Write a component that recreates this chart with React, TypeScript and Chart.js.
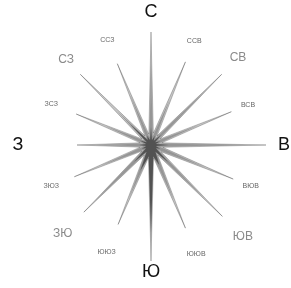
import React, { useEffect, useRef } from "react";
import { Chart, registerables } from "chart.js";

Chart.register(...registerables);

// 16 wind directions, clockwise from north
const DIRECTIONS = ["С", "ССВ", "СВ", "ВСВ", "В", "ВЮВ", "ЮВ", "ЮЮВ", "Ю", "ЮЮЗ", "ЗЮ", "ЗЮЗ", "З", "ЗСЗ", "СЗ", "ССЗ"];

// spike tip values (outer faint layer)
const OUTER_TIPS = [113, 90, 100, 87, 115, 89, 101, 90, 116, 86, 95, 83, 74, 81, 100, 88];
// values between directions (outer layer)
const OUTER_GAPS = [12, 11, 11, 11, 12, 12, 12, 13, 13, 12, 11, 11, 11, 11, 11, 11];

// darker middle layer
const INNER_TIPS = [82, 50, 80, 52, 95, 60, 76, 60, 98, 58, 80, 55, 55, 50, 48, 55];
const INNER_GAPS = [9, 8, 8, 8, 9, 9, 10, 11, 11, 10, 9, 8, 8, 8, 8, 8];

// darkest core
const CORE_TIPS = [18, 10, 14, 10, 18, 10, 24, 22, 88, 28, 24, 10, 12, 12, 30, 10];
const CORE_GAPS = [5, 5, 5, 5, 5, 6, 8, 12, 12, 8, 6, 5, 5, 5, 6, 5];

const SCALE_MAX = 140;

// label styling
const LABEL_DIST = [133, 113, 123, 105, 133, 108, 130, 118, 127, 116, 125, 108, 133, 108, 120, 114];
const LABEL_LEVEL = [0, 2, 1, 2, 0, 2, 1, 2, 0, 2, 1, 2, 0, 2, 1, 2];

function interleave(tips: number[], gaps: number[]): number[] {
  const out: number[] = [];
  for (let i = 0; i < tips.length; i++) {
    out.push(tips[i]);
    out.push(gaps[i]);
  }
  return out;
}

const labelPlugin = {
  id: "windLabels",
  afterDatasetsDraw(chart: any) {
    const scale = chart.scales.r;
    const ctx = chart.ctx;
    ctx.save();
    ctx.textAlign = "center";
    ctx.textBaseline = "middle";
    DIRECTIONS.forEach((name, i) => {
      const dist = scale.getDistanceFromCenterForValue(LABEL_DIST[i]);
      const p = scale.getPointPosition(i * 2, dist);
      const lvl = LABEL_LEVEL[i];
      if (lvl === 0) {
        ctx.font = "18px 'Liberation Sans', Arial, sans-serif";
        ctx.fillStyle = "#111";
      } else if (lvl === 1) {
        ctx.font = "12px 'Liberation Sans', Arial, sans-serif";
        ctx.fillStyle = "#8a8a8a";
      } else {
        ctx.font = "7px 'Liberation Sans', Arial, sans-serif";
        ctx.fillStyle = "#666";
      }
      ctx.fillText(name, p.x, p.y);
    });
    ctx.restore();
  },
};

export default function App() {
  const ref = useRef<HTMLCanvasElement | null>(null);
  useEffect(() => {
    if (!ref.current) return;
    const labels: string[] = [];
    DIRECTIONS.forEach((d) => {
      labels.push(d);
      labels.push("");
    });
    const chart = new Chart(ref.current, {
      type: "radar",
      data: {
        labels,
        datasets: [
          {
            label: "outer",
            data: interleave(OUTER_TIPS, OUTER_GAPS),
            backgroundColor: "rgba(0,0,0,0.22)",
            borderColor: "rgba(0,0,0,0.3)",
            borderWidth: 0.8,
            pointRadius: 0,
          },
          {
            label: "inner",
            data: interleave(INNER_TIPS, INNER_GAPS),
            backgroundColor: "rgba(0,0,0,0.25)",
            borderWidth: 0,
            pointRadius: 0,
          },
          {
            label: "core",
            data: interleave(CORE_TIPS, CORE_GAPS),
            backgroundColor: "rgba(0,0,0,0.45)",
            borderWidth: 0,
            pointRadius: 0,
          },
        ],
      },
      options: {
        animation: false,
        responsive: false,
        layout: { padding: { left: 11, right: 0, top: 2, bottom: 0 } },
        plugins: { legend: { display: false }, tooltip: { enabled: false } },
        elements: { line: { tension: 0 } },
        scales: {
          r: {
            min: 0,
            max: SCALE_MAX,
            ticks: { display: false },
            grid: { display: false },
            angleLines: { display: false },
            pointLabels: { display: false },
          },
        },
      },
      plugins: [labelPlugin],
    });
    return () => chart.destroy();
  }, []);
  return (
    <div style={{ position: "fixed", left: 0, top: 0, width: 291, height: 288, background: "#fff" }}>
      <canvas ref={ref} width={291} height={288} style={{ display: "block" }} />
    </div>
  );
}
